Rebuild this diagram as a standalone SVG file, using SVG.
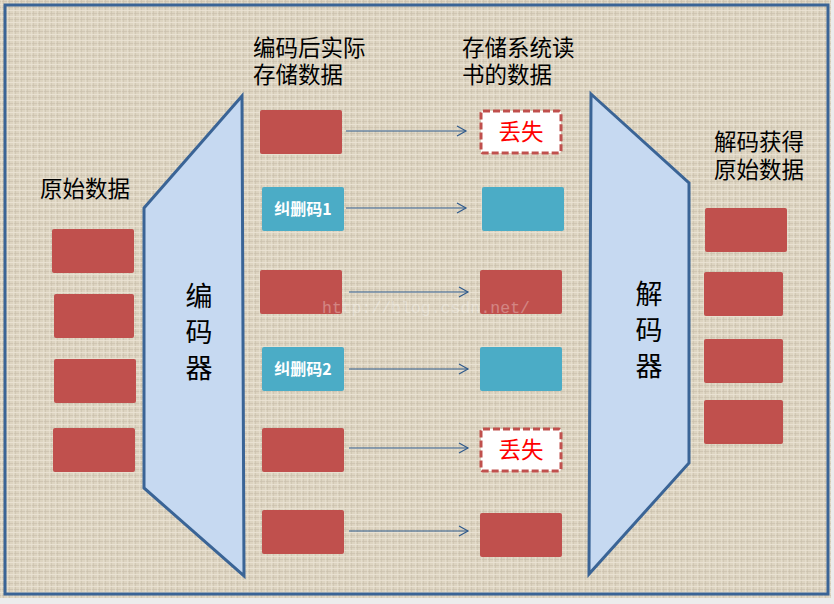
<svg xmlns="http://www.w3.org/2000/svg" width="834" height="604" viewBox="0 0 834 604">
<defs>
<pattern id="linen" x="0" y="0" width="6" height="6" patternUnits="userSpaceOnUse">
<rect width="6" height="6" fill="#ddd4c1"/>
<rect x="0" y="1" width="6" height="1" fill="#cbc1ad" opacity="0.7"/>
<rect x="3" y="0" width="1" height="6" fill="#c9bfab" opacity="0.6"/>
<rect x="0" y="4" width="6" height="1" fill="#ece5d6" opacity="0.8"/>
<rect x="1" y="0" width="1" height="6" fill="#eae3d3" opacity="0.6"/>
</pattern>
<marker id="arr" markerWidth="12" markerHeight="12" refX="10" refY="6" orient="auto" markerUnits="userSpaceOnUse">
<path d="M1,1 L10,6 L1,11" fill="none" stroke="#2f5a8c" stroke-width="1.2"/>
</marker>
</defs>
<style>
.red{fill:#c0504d}
.blue{fill:#4bacc6}
.lost{fill:#ffffff;stroke:#c0504d;stroke-width:3;stroke-dasharray:7 3}
.trap{fill:#c6d9f1;stroke:#3a6496;stroke-width:3;stroke-linejoin:miter}
.lbl{font-family:"Noto Sans CJK SC",sans-serif;font-size:22.5px;fill:#000}
.big{font-family:"Noto Sans CJK SC",sans-serif;font-size:27px;fill:#000;text-anchor:middle}
.ec{font-family:"Noto Sans CJK SC",sans-serif;font-size:16px;font-weight:bold;fill:#fff;text-anchor:middle}
.ls{font-family:"Noto Sans CJK SC",sans-serif;font-size:22.5px;fill:#ff0000;text-anchor:middle}
.conn{stroke:#2f5a8c;stroke-width:1.2;fill:none;marker-end:url(#arr)}
</style>
<rect x="0" y="0" width="834" height="604" fill="#ececec"/>
<rect x="0" y="0" width="831" height="598" fill="url(#linen)"/>
<rect x="5" y="5" width="823" height="589" fill="none" stroke="#3a6496" stroke-width="3"/>

<g id="encoder">
<polygon class="trap" points="144,208 242,96 244,576 144,488"/>
<text class="big" x="199" y="306">编</text>
<text class="big" x="199" y="342">码</text>
<text class="big" x="199" y="378">器</text>
</g>
<g id="decoder">
<polygon class="trap" points="591,94 689,183 689,463 589,574"/>
<text class="big" x="649" y="304">解</text>
<text class="big" x="649" y="340">码</text>
<text class="big" x="649" y="376">器</text>
</g>

<g id="label-original"><text class="lbl" x="40" y="197">原始数据</text></g>
<g id="label-encoded"><text class="lbl" x="253" y="56">编码后实际</text><text class="lbl" x="253" y="83">存储数据</text></g>
<g id="label-read"><text class="lbl" x="462" y="56">存储系统读</text><text class="lbl" x="462" y="83">书的数据</text></g>
<g id="label-decoded"><text class="lbl" x="714" y="150">解码获得</text><text class="lbl" x="714" y="178">原始数据</text></g>

<g id="orig-1"><rect class="red" x="52" y="229" width="82" height="44" rx="2"/></g>
<g id="orig-2"><rect class="red" x="54" y="294" width="80" height="44" rx="2"/></g>
<g id="orig-3"><rect class="red" x="54" y="359" width="82" height="44" rx="2"/></g>
<g id="orig-4"><rect class="red" x="53" y="428" width="82" height="44" rx="2"/></g>

<g id="enc-1"><rect class="red" x="260" y="110" width="82" height="44" rx="2"/></g>
<g id="enc-2"><rect class="blue" x="262" y="187" width="82" height="44" rx="2"/><text class="ec" x="303" y="215">纠删码1</text></g>
<g id="enc-3"><rect class="red" x="260" y="270" width="82" height="44" rx="2"/></g>
<g id="enc-4"><rect class="blue" x="262" y="347" width="82" height="44" rx="2"/><text class="ec" x="303" y="375">纠删码2</text></g>
<g id="enc-5"><rect class="red" x="262" y="428" width="82" height="44" rx="2"/></g>
<g id="enc-6"><rect class="red" x="262" y="510" width="82" height="44" rx="2"/></g>

<g id="read-1"><rect class="lost" x="481" y="111" width="80" height="42" rx="2"/><text class="ls" x="521" y="140">丢失</text></g>
<g id="read-2"><rect class="blue" x="482" y="187" width="82" height="44" rx="2"/></g>
<g id="read-3"><rect class="red" x="480" y="270" width="82" height="44" rx="2"/></g>
<g id="read-4"><rect class="blue" x="480" y="347" width="82" height="44" rx="2"/></g>
<g id="read-5"><rect class="lost" x="481" y="429" width="80" height="42" rx="2"/><text class="ls" x="521" y="458">丢失</text></g>
<g id="read-6"><rect class="red" x="480" y="513" width="82" height="44" rx="2"/></g>

<g id="dec-1"><rect class="red" x="705" y="208" width="82" height="44" rx="2"/></g>
<g id="dec-2"><rect class="red" x="704" y="272" width="79" height="44" rx="2"/></g>
<g id="dec-3"><rect class="red" x="704" y="339" width="79" height="44" rx="2"/></g>
<g id="dec-4"><rect class="red" x="704" y="400" width="79" height="44" rx="2"/></g>

<g id="connectors">
<line class="conn" x1="346" y1="131" x2="466" y2="131"/>
<line class="conn" x1="346" y1="208" x2="466" y2="208"/>
<line class="conn" x1="349" y1="292" x2="468" y2="292"/>
<line class="conn" x1="349" y1="369" x2="468" y2="369"/>
<line class="conn" x1="349" y1="448" x2="468" y2="448"/>
<line class="conn" x1="349" y1="531" x2="468" y2="531"/>
</g>

<text x="322" y="313" font-family="Liberation Mono,monospace" font-size="16.5" fill="#ffffff" opacity="0.3">http://blog.csdn.net/</text>
</svg>
